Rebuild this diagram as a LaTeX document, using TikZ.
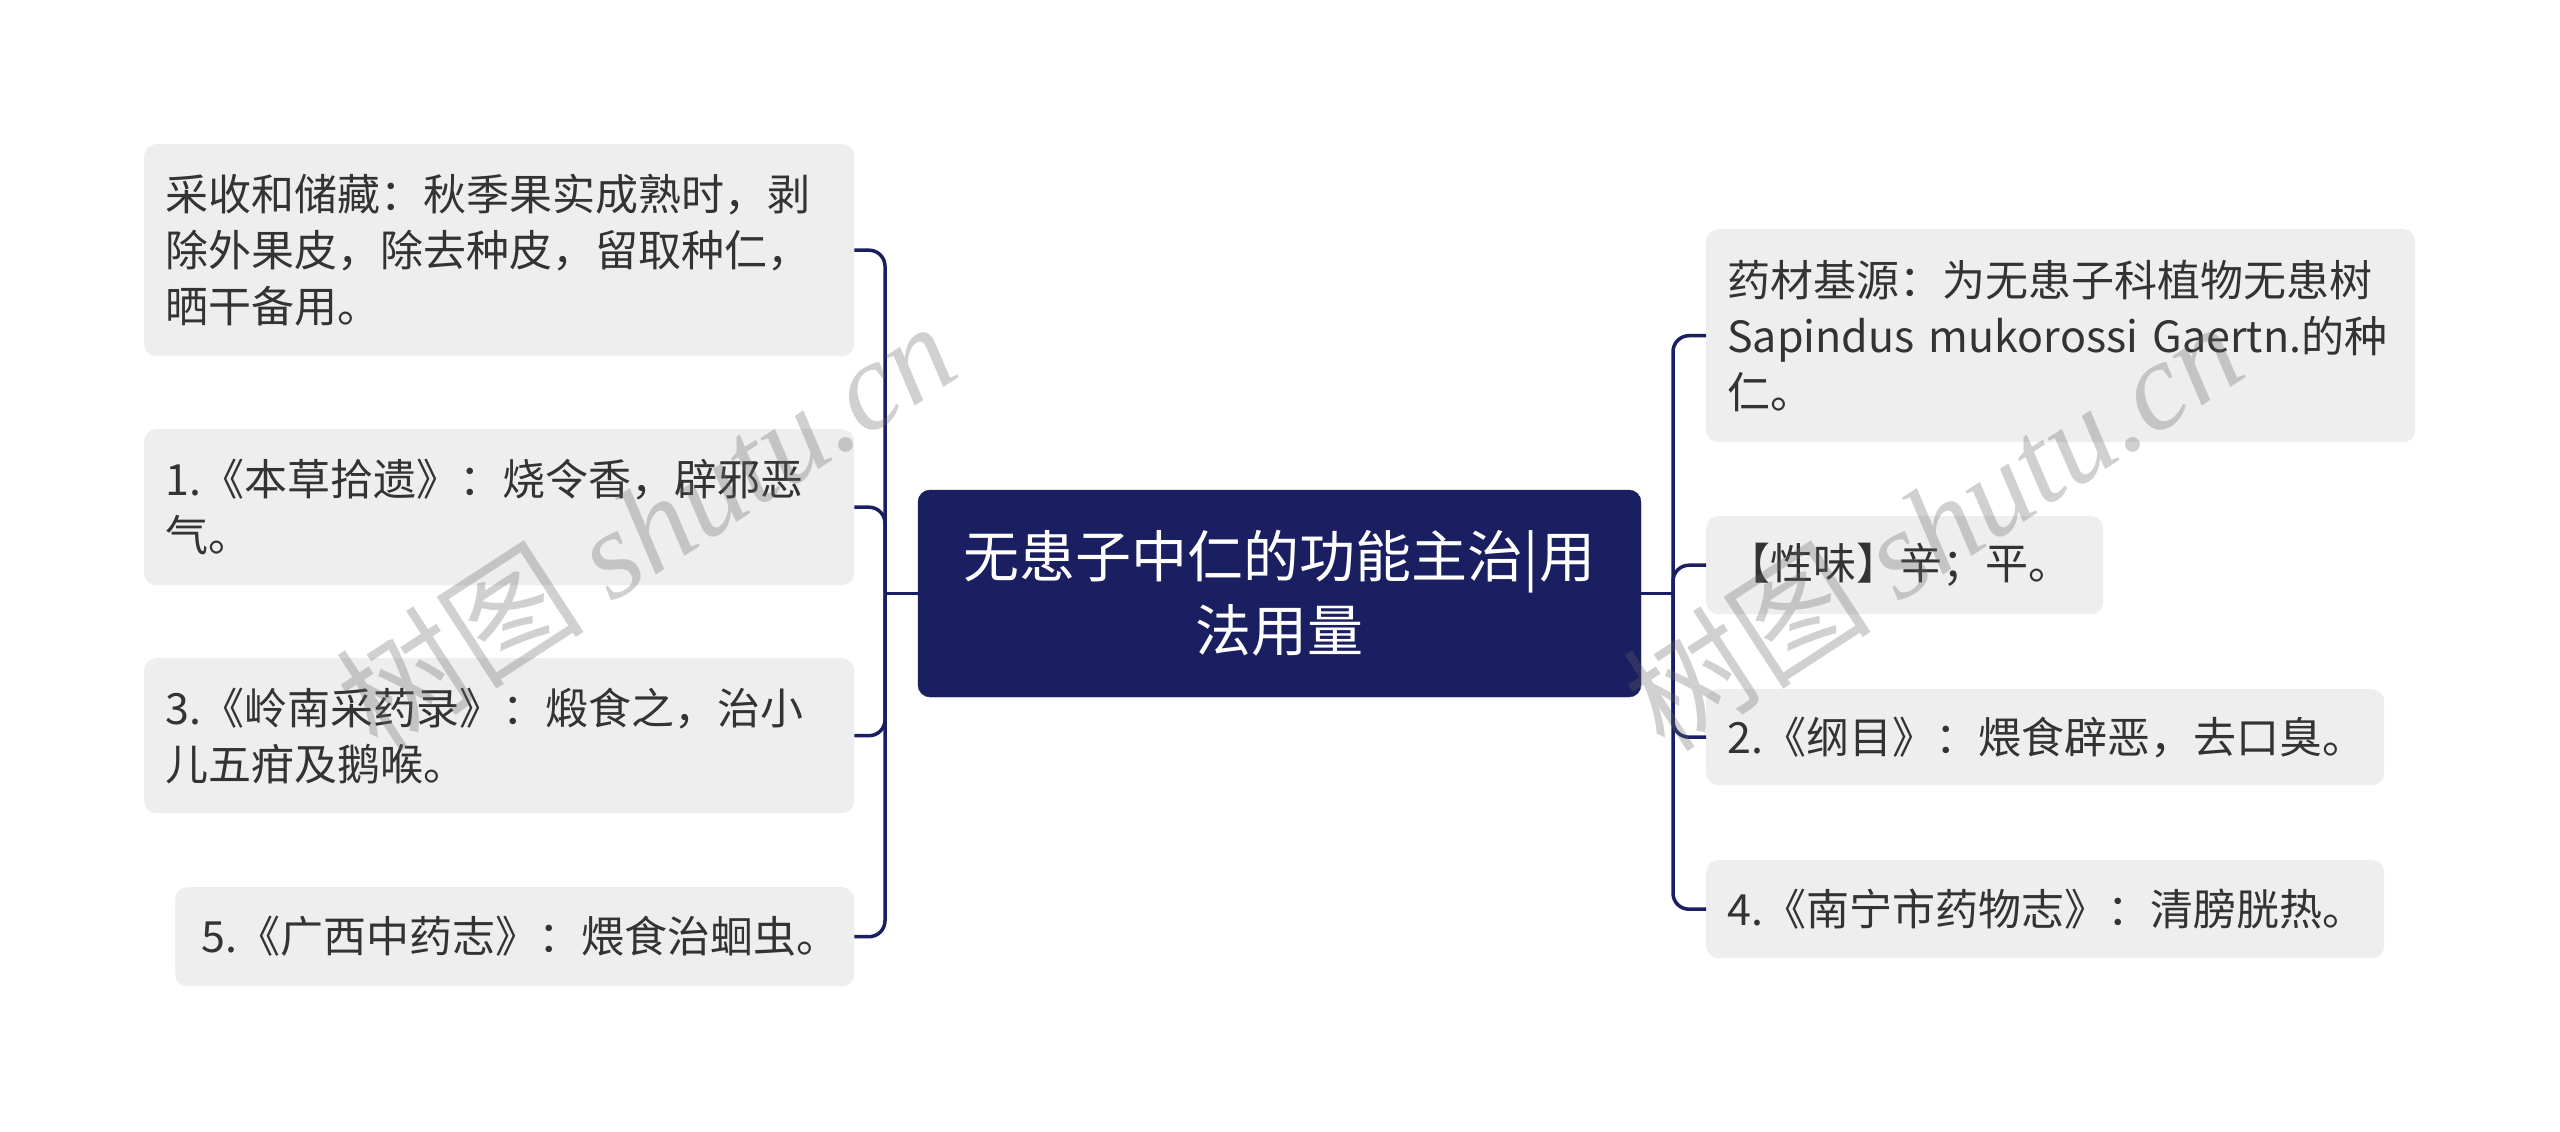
\documentclass[tikz,border=0pt]{standalone}
\usepackage{fontspec}
\setmainfont{Noto Sans CJK SC}
\newfontfamily\wmlatin{Liberation Serif}
\newfontfamily\wmcjk{Noto Sans CJK SC}
\definecolor{navy}{HTML}{1A1F61}
\definecolor{boxgray}{HTML}{EEEEEE}
\definecolor{txtgray}{HTML}{333333}
\tikzset{
  leaf/.style={fill=boxgray, rounded corners=12pt, text=txtgray,
    font=\fontsize{43}{56}\selectfont, align=left, anchor=north west,
    inner xsep=21pt, inner ysep=0pt},
  root/.style={fill=navy, draw=navy, rounded corners=12pt, text=white,
    font=\fontsize{56}{74}\selectfont, align=center,
    minimum width=723pt, minimum height=207pt, inner sep=0pt},
  conn/.style={draw=navy, line width=3.5pt, rounded corners=16pt},
  wmark/.style={text=black!60, opacity=0.3, rotate=33, inner sep=0pt,
    font=\fontsize{125}{125}\selectfont}
}
\begin{document}
\begin{tikzpicture}[x=1pt,y=-1pt]
\useasboundingbox (0,0) rectangle (2560,1132);
\fill[white] (0,0) rectangle (2560,1132);

\node[root] (c) at (1279.5,593.5) {无患子中仁的功能主治|用\\法用量};

\node[leaf, minimum width=710pt, minimum height=212pt, text width=668pt] (l1) at (144,144)
  {采收和储藏：秋季果实成熟时，剥\\除外果皮，除去种皮，留取种仁，\\晒干备用。};
\node[leaf, minimum width=710pt, minimum height=156pt, text width=668pt] (l2) at (144,429)
  {1.《本草拾遗》：烧令香，辟邪恶\\气。};
\node[leaf, minimum width=710pt, minimum height=155pt, text width=668pt] (l3) at (144,658)
  {3.《岭南采药录》：煅食之，治小\\儿五疳及鹅喉。};
\node[leaf, minimum width=679pt, minimum height=99pt, text width=627pt, inner xsep=26pt] (l4) at (175,887)
  {5.《广西中药志》：煨食治蛔虫。};

\node[leaf, minimum width=709pt, minimum height=213pt, text width=667pt] (r1) at (1706,229)
  {药材基源：为无患子科植物无患树\\Sapindus mukorossi Gaertn.的种\\仁。};
\node[leaf, minimum width=397pt, minimum height=98pt, text width=355pt] (r2) at (1706,516)
  {【性味】辛；平。};
\node[leaf, minimum width=678pt, minimum height=96pt, text width=636pt] (r3) at (1706,689)
  {2.《纲目》：煨食辟恶，去口臭。};
\node[leaf, minimum width=678pt, minimum height=98pt, text width=636pt] (r4) at (1706,860)
  {4.《南宁市药物志》：清膀胱热。};

\coordinate (lj) at (885,593.5);
\coordinate (rj) at (1673,593.5);

\draw[conn] (c.west) -- (lj);
\draw[conn] (lj) |- (l1.east);
\draw[conn] (lj) |- (l2.east);
\draw[conn] (lj) |- (l3.east);
\draw[conn] (lj) |- (l4.east);

\draw[conn] (c.east) -- (rj);
\draw[conn] (rj) |- (r1.west);
\draw[conn] (rj) |- (r2.west);
\draw[conn] (rj) |- (r3.west);
\draw[conn] (rj) |- (r4.west);

\node[wmark] (wm1) at (645,525) {{\wmcjk 树图} {\wmlatin\itshape shutu.cn}};
\node[wmark] (wm2) at (1932,525) {{\wmcjk 树图} {\wmlatin\itshape shutu.cn}};
\end{tikzpicture}
\end{document}
